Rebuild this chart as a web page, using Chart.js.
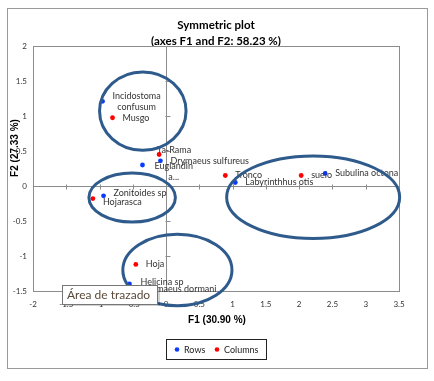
<!DOCTYPE html>
<html>
<head>
<meta charset="utf-8">
<script src="https://cdn.jsdelivr.net/npm/chart.js@4.4.1/dist/chart.umd.min.js"></script>
<style>
  html, body { margin: 0; padding: 0; background: #fff; }
  #wrap { position: relative; width: 434px; height: 381px; }
</style>
</head>
<body>
<div id="wrap"><canvas id="plot" width="434" height="381"></canvas></div>
<script>
// Datos del gráfico
const rowNames = ['Incidostoma\nconfusum', 'Drymaeus sulfureus', 'Euglandin\na...', 'Labyrinthhus otis',
                  'Subulina octona', 'Zonitoides sp', 'Helicina sp', 'Drymaeus dormani'];
const rowF1 = [-0.955, -0.085, -0.355, 1.04, 2.39, -0.94, -0.55, -0.52];
const rowF2 = [1.21, 0.36, 0.30, 0.05, 0.18, -0.14, -1.40, -1.47];

const colNames = ['Musgo', 'Ta-Rama', 'Tronco', 'suelo', 'Hojarasca', 'Hoja'];
const colF1 = [-0.805, -0.105, 0.89, 2.03, -1.10, -0.455];
const colF2 = [0.975, 0.45, 0.15, 0.15, -0.18, -1.12];

// Elipses de agrupamiento (centro y radios en unidades de los ejes)
const ellCx = [-0.35, -0.51, 2.21, 0.17];
const ellCy = [1.07, -0.165, -0.16, -1.20];
const ellRx = [0.65, 0.65, 1.30, 0.82];
const ellRy = [0.56, 0.35, 0.59, 0.51];

const xTicks = [-2, -1.5, -1, -0.5, 0, 0.5, 1, 1.5, 2, 2.5, 3, 3.5];
const yTicks = [-1.5, -1, -0.5, 0, 0.5, 1, 1.5, 2];

const BLUE = '#0a3cff';
const RED = '#ff0000';
const LABEL_FONT = '9px Lato';

// pequeños ajustes de posición de etiquetas
const labelNudge = {
    'Euglandin\na...': { dx: 2, dy: 7 },
    'Zonitoides sp': { dx: 0, dy: -3 },
    'Hojarasca': { dx: 0, dy: 3 },
    'Ta-Rama': { dx: -12, dy: -4 },
    'Helicina sp': { dx: 1, dy: -2 }
};

function toPoints(xs, ys) {
    return xs.map((x, i) => ({ x: x, y: ys[i] }));
}

const framePlugin = {
    id: 'frame',
    beforeDraw(chart) {
        const ctx = chart.ctx;
        ctx.save();
        ctx.fillStyle = '#fff';
        ctx.fillRect(0, 0, chart.width, chart.height);
        ctx.strokeStyle = '#9a9a9a';
        ctx.lineWidth = 1;
        ctx.strokeRect(7.5, 8.5, 420, 360);

        // título
        ctx.fillStyle = '#000';
        ctx.textAlign = 'center';
        ctx.textBaseline = 'middle';
        ctx.font = 'bold 11.5px Lato';
        ctx.fillText('Symmetric plot', 216, 25);
        ctx.fillText('(axes F1 and F2: 58.23 %)', 216, 41);

        // títulos de ejes
        ctx.font = 'bold 10px "Liberation Sans"';
        ctx.fillText('F1 (30.90 %)', 217, 320);
        ctx.save();
        ctx.translate(15, 148);
        ctx.rotate(-Math.PI / 2);
        ctx.fillText('F2 (27.33 %)', 0, 0);
        ctx.restore();
        ctx.restore();
    },
    beforeDatasetsDraw(chart) {
        const ctx = chart.ctx;
        const a = chart.chartArea;
        const xs = chart.scales.x, ys = chart.scales.y;
        ctx.save();
        ctx.strokeStyle = '#8c8c8c';
        ctx.lineWidth = 1;
        ctx.strokeRect(Math.round(a.left) + 0.5, Math.round(a.top) + 0.5,
                       Math.round(a.right - a.left), Math.round(a.bottom - a.top));
        // ejes en cero
        const x0 = Math.round(xs.getPixelForValue(0)) + 0.5;
        const y0 = Math.round(ys.getPixelForValue(0)) + 0.5;
        ctx.beginPath();
        ctx.moveTo(a.left, y0); ctx.lineTo(a.right, y0);
        ctx.moveTo(x0, a.top); ctx.lineTo(x0, a.bottom);
        xTicks.forEach(v => {
            const px = Math.round(xs.getPixelForValue(v)) + 0.5;
            ctx.moveTo(px, y0 - 2); ctx.lineTo(px, y0 + 3);
        });
        yTicks.forEach(v => {
            const py = Math.round(ys.getPixelForValue(v)) + 0.5;
            ctx.moveTo(x0 - 1, py); ctx.lineTo(x0 + 4, py);
        });
        ctx.stroke();
        ctx.restore();
    },
    afterDatasetsDraw(chart) {
        const ctx = chart.ctx;
        const xs = chart.scales.x, ys = chart.scales.y;
        ctx.save();
        // etiquetas de puntos
        ctx.font = LABEL_FONT;
        ctx.fillStyle = '#333';
        ctx.textBaseline = 'middle';
        ctx.textAlign = 'center';
        const drawLabel = (name, x, y) => {
            const lines = name.split('\n');
            const w = Math.max(...lines.map(l => ctx.measureText(l).width));
            const n = labelNudge[name] || { dx: 0, dy: 0 };
            const left = xs.getPixelForValue(x) + 10 + n.dx;
            const cy = ys.getPixelForValue(y) + n.dy;
            const lh = 11;
            lines.forEach((l, i) => {
                ctx.fillText(l, left + w / 2, cy + (i - (lines.length - 1) / 2) * lh);
            });
        };
        rowNames.forEach((nm, i) => drawLabel(nm, rowF1[i], rowF2[i]));
        colNames.forEach((nm, i) => drawLabel(nm, colF1[i], colF2[i]));

        // elipses
        ctx.strokeStyle = '#2f5b8c';
        ctx.lineWidth = 3;
        ellCx.forEach((cx, i) => {
            const px = xs.getPixelForValue(cx);
            const py = ys.getPixelForValue(ellCy[i]);
            const rx = Math.abs(xs.getPixelForValue(cx + ellRx[i]) - px);
            const ry = Math.abs(ys.getPixelForValue(ellCy[i] + ellRy[i]) - py);
            ctx.beginPath();
            ctx.ellipse(px, py, rx, ry, 0, 0, Math.PI * 2);
            ctx.stroke();
        });
        ctx.restore();
    },
    afterDraw(chart) {
        const ctx = chart.ctx;
        ctx.save();
        // leyenda
        ctx.strokeStyle = '#222';
        ctx.lineWidth = 1;
        ctx.strokeRect(166.5, 339.5, 100, 20);
        ctx.font = LABEL_FONT;
        ctx.textBaseline = 'middle';
        ctx.textAlign = 'left';
        const items = chart.data.datasets.map(d => ({ label: d.label, color: d.backgroundColor }));
        let lx = 177;
        items.forEach(it => {
            ctx.fillStyle = it.color;
            ctx.beginPath();
            ctx.arc(lx, 349.5, 2.3, 0, Math.PI * 2);
            ctx.fill();
            ctx.fillStyle = '#222';
            ctx.fillText(it.label, lx + 7, 350);
            lx += 40;
        });

        // cuadro "Área de trazado"
        ctx.fillStyle = 'rgba(0,0,0,0.18)';
        ctx.fillRect(64, 287, 96, 19);
        ctx.fillStyle = '#fff';
        ctx.fillRect(62, 285, 95, 19);
        ctx.strokeStyle = '#767676';
        ctx.strokeRect(62.5, 285.5, 95, 19);
        ctx.fillStyle = '#5a4a3a';
        ctx.font = '12px Lato';
        ctx.fillText('Área de trazado', 67, 295);
        ctx.restore();
    }
};

new Chart(document.getElementById('plot'), {
    type: 'scatter',
    data: {
        datasets: [{
            label: 'Rows',
            data: toPoints(rowF1, rowF2),
            backgroundColor: BLUE,
            borderColor: BLUE,
            pointRadius: 2.4,
            borderWidth: 0
        }, {
            label: 'Columns',
            data: toPoints(colF1, colF2),
            backgroundColor: RED,
            borderColor: RED,
            pointRadius: 2.4,
            borderWidth: 0
        }]
    },
    options: {
        responsive: false,
        animation: false,
        layout: { padding: { top: 46, left: 0, right: 35, bottom: 70 } },
        plugins: {
            legend: { display: false },
            tooltip: { enabled: false },
            title: { display: false }
        },
        scales: {
            x: {
                type: 'linear',
                min: -2, max: 3.5,
                afterBuildTicks: s => { s.ticks = xTicks.map(v => ({ value: v })); },
                afterFit: s => { s.height = 20; },
                grid: { display: false, drawTicks: false },
                border: { display: false },
                ticks: {
                    padding: 9,
                    color: '#333',
                    font: { family: 'Lato', size: 8 },
                    maxRotation: 0,
                    callback: v => String(v)
                }
            },
            y: {
                type: 'linear',
                min: -1.5, max: 2,
                afterBuildTicks: s => { s.ticks = yTicks.map(v => ({ value: v })); },
                afterFit: s => { s.width = 33; },
                grid: { display: false, drawTicks: false },
                border: { display: false },
                ticks: {
                    padding: 6,
                    color: '#333',
                    font: { family: 'Lato', size: 8 },
                    callback: v => String(v)
                }
            }
        }
    },
    plugins: [framePlugin]
});
</script>
</body>
</html>
